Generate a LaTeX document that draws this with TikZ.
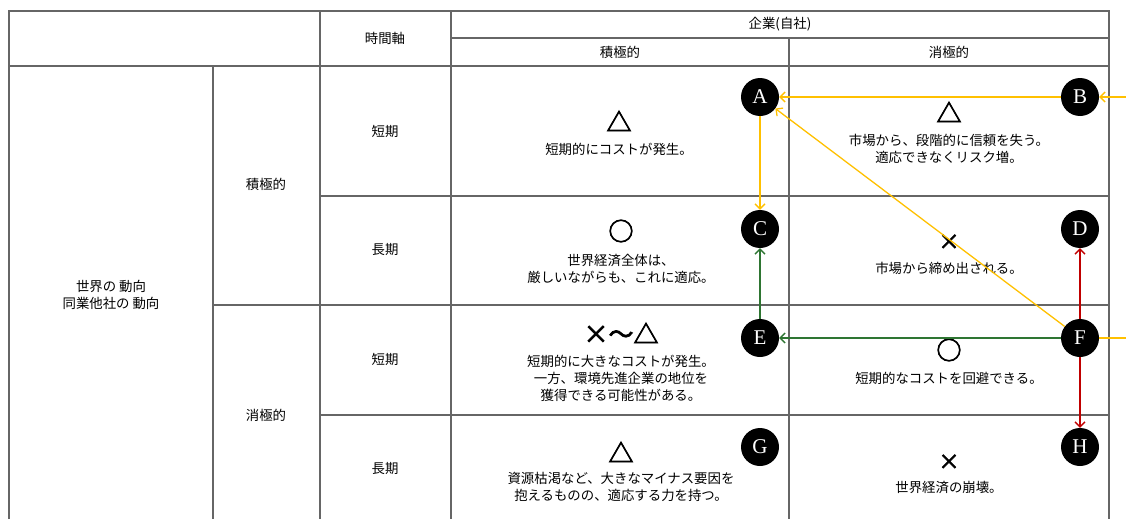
\documentclass[tikz,border=0pt]{standalone}
\usepackage{fontspec}
\setmainfont{Noto Sans CJK JP}
\newfontfamily\letterfont{Liberation Serif}
\newfontfamily\symfont[FakeBold=3]{Noto Sans CJK JP}
\usetikzlibrary{arrows.meta}
\definecolor{ylw}{HTML}{FFC000}
\definecolor{grn}{HTML}{2E7532}
\definecolor{rd}{HTML}{C00000}
\definecolor{grid}{HTML}{666666}
\begin{document}
\begin{tikzpicture}[x=1pt,y=-1pt,
  gridline/.style={draw=grid,line width=1.1pt},
  lbl/.style={font=\fontsize{13.4}{17}\selectfont,align=center,inner sep=0pt},
  sym/.style={font=\symfont\fontsize{25}{26}\selectfont,inner sep=0pt},
  xsym/.style={font=\symfont\fontsize{21}{22}\selectfont,inner sep=0pt},
  dot/.style={circle,fill=black,minimum size=38pt,inner sep=0pt,text=white,font=\letterfont\fontsize{21}{21}\selectfont},
  conn/.style={line width=1.3pt,-{Straight Barb[length=5pt,width=10pt]}},
  ya/.style={conn,draw=ylw},
  ga/.style={conn,draw=grn},
  ra/.style={conn,draw=rd}]
\useasboundingbox (0,0) rectangle (1126,519);
% grid
\draw[gridline] (9,519) -- (9,11) -- (1109,11) -- (1109,519);
\draw[gridline] (451,38) -- (1109,38);
\draw[gridline] (9,66) -- (1109,66);
\draw[gridline] (320,196) -- (1109,196);
\draw[gridline] (213,305) -- (1109,305);
\draw[gridline] (320,415) -- (1109,415);
\draw[gridline] (213,66) -- (213,519);
\draw[gridline] (320,11) -- (320,519);
\draw[gridline] (451,11) -- (451,519);
\draw[gridline] (789,38) -- (789,519);
% headers
\node[lbl] (hjikan) at (385,38) {時間軸};
\node[lbl] (hkigyo) at (780,24) {企業(自社)};
\node[lbl] (hsekkyoku) at (620,52) {積極的};
\node[lbl] (hshokyoku) at (949,52) {消極的};
\node[lbl] (hworld) at (111,295) {世界の 動向\\同業他社の 動向};
\node[lbl] (rsek) at (266,184) {積極的};
\node[lbl] (rsho) at (266,415) {消極的};
\node[lbl] (t1) at (385,131) {短期};
\node[lbl] (t2) at (385,250) {長期};
\node[lbl] (t3) at (385,359) {短期};
\node[lbl] (t4) at (385,469) {長期};
% cells
\node[sym] (s1) at (619,121) {△};
\node[lbl] (c1) at (619,149) {短期的にコストが発生。};
\node[sym] (s2) at (949,112) {△};
\node[lbl] (c2) at (949,149) {市場から、段階的に信頼を失う。\\適応できなくリスク増。};
\node[sym] (s3) at (621,231) {○};
\node[lbl] (c3) at (621,269) {世界経済全体は、\\厳しいながらも、これに適応。};
\node[xsym] (s4) at (949,242) {×};
\node[lbl] (c4) at (949,268) {市場から締め出される。};
\node[sym] (s5) at (621,333) {×～△};
\node[lbl] (c5) at (621,378) {短期的に大きなコストが発生。\\一方、環境先進企業の地位を\\獲得できる可能性がある。};
\node[sym] (s6) at (949,350) {○};
\node[lbl] (c6) at (949,378) {短期的なコストを回避できる。};
\node[sym] (s7) at (621,452) {△};
\node[lbl] (c7) at (621,487) {資源枯渇など、大きなマイナス要因を\\抱えるものの、適応する力を持つ。};
\node[xsym] (s8) at (949,462) {×};
\node[lbl] (c8) at (949,487) {世界経済の崩壊。};
% dots
\node[dot] (A) at (760,97) {A};
\node[dot] (B) at (1080,97) {B};
\node[dot] (C) at (760,229) {C};
\node[dot] (D) at (1080,229) {D};
\node[dot] (E) at (760,338) {E};
\node[dot] (F) at (1080,338) {F};
\node[dot] (G) at (760,447) {G};
\node[dot] (H) at (1080,447) {H};
\coordinate (inB) at (1126,97);
\coordinate (outF) at (1126,338);
% connectors
\draw[ya] (inB) -- (B);
\draw[ya] (B) -- (A);
\draw[ya] (F) -- (A);
\draw[ya] (A) -- (C);
\draw[line width=1.3pt,draw=ylw] (F) -- (outF);
\draw[ga] (E) -- (C);
\draw[ga] (F) -- (E);
\draw[ra] (F) -- (D);
\draw[ra] (F) -- (H);
\end{tikzpicture}
\end{document}
